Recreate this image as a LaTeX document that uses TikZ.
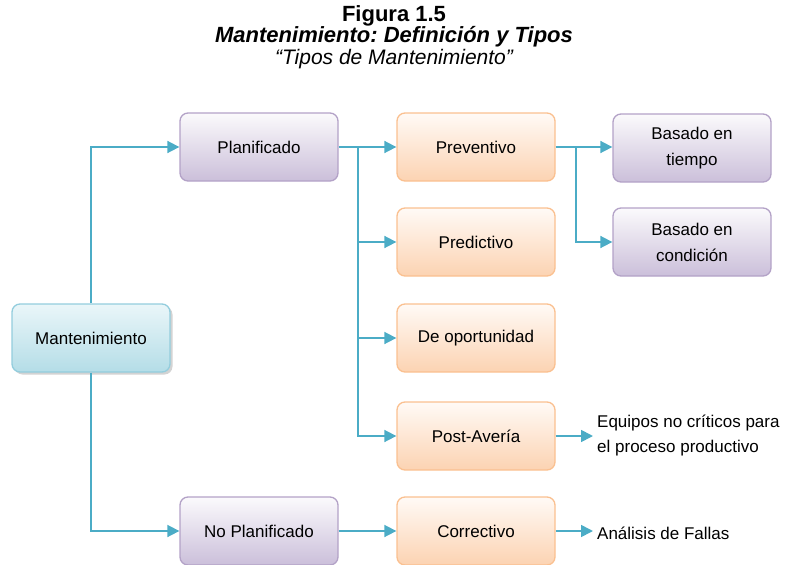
\documentclass[tikz,border=0pt]{standalone}
\usepackage{fontspec}
\setmainfont{Liberation Sans}
\usetikzlibrary{arrows.meta,shadows}
\frenchspacing
\definecolor{lineC}{HTML}{4BACC6}
\definecolor{purB}{HTML}{B3A2C7}
\definecolor{purT}{HTML}{FBFAFC}
\definecolor{purD}{HTML}{CBBFDA}
\definecolor{oraB}{HTML}{FAC090}
\definecolor{oraT}{HTML}{FFFAF6}
\definecolor{oraD}{HTML}{FCD3B2}
\definecolor{cyaB}{HTML}{93CDDD}
\definecolor{cyaT}{HTML}{EAF6F9}
\definecolor{cyaD}{HTML}{B4DDE7}
\tikzset{
  box/.style={rounded corners=8pt, line width=1.3pt, minimum width=158pt, minimum height=68pt,
    inner sep=0pt, align=center, font=\fontsize{17}{26}\selectfont},
  purbox/.style={box, draw=purB, top color=purT, bottom color=purD},
  orabox/.style={box, draw=oraB, top color=oraT, bottom color=oraD},
  cyabox/.style={box, draw=cyaB, top color=cyaT, bottom color=cyaD,
    drop shadow={shadow xshift=2.5pt, shadow yshift=-2.5pt, opacity=0.35, fill=gray}},
  conn/.style={draw=lineC, line width=1.7pt, -{Triangle[length=12pt,width=12pt]}},
  lbl/.style={align=left, anchor=west, inner sep=4pt, font=\fontsize{17}{25}\selectfont},
  ttl/.style={align=center, inner sep=0pt}
}
\begin{document}
\begin{tikzpicture}[x=1pt,y=-1pt]
\useasboundingbox (0,0) rectangle (788,565);
% titles
\node[ttl, font=\fontsize{22}{22}\selectfont\bfseries] (t1) at (394,16) {Figura 1.5};
\node[ttl, font=\fontsize{22}{22}\selectfont\bfseries\itshape] (t2) at (394,37) {Mantenimiento: Definición y Tipos};
\node[ttl, font=\fontsize{21}{21}\selectfont\itshape] (t3) at (394,59) {“Tipos de Mantenimiento”};
% boxes
\node[cyabox] (mant) at (91,338) {Mantenimiento};
\node[purbox] (plan) at (259,147) {Planificado};
\node[purbox] (noplan) at (259,531) {No Planificado};
\node[orabox] (prev) at (476,147) {Preventivo};
\node[orabox] (pred) at (476,242) {Predictivo};
\node[orabox] (opor) at (476,338) {De oportunidad};
\node[orabox] (post) at (476,436) {Post-Avería};
\node[orabox] (corr) at (476,531) {Correctivo};
\node[purbox] (btie) at (692,148) {Basado en\\tiempo};
\node[purbox] (bcon) at (692,242) {Basado en\\condición};
\node[lbl] (equi) at (593,436) {Equipos no críticos para\\el proceso productivo};
\node[lbl] (anal) at (593,533) {Análisis de Fallas};
% connectors
\coordinate (j1) at (358,147);
\coordinate (j2) at (576,147);
\draw[conn] (mant.north) |- (plan.west);
\draw[conn] (mant.south) |- (noplan.west);
\draw[conn] (plan.east) -- (prev.west);
\draw[conn] (j1) |- (pred.west);
\draw[conn] (j1) |- (opor.west);
\draw[conn] (j1) |- (post.west);
\draw[conn] (prev.east) -- (prev.east -| btie.west);
\draw[conn] (j2) |- (bcon.west);
\draw[conn] (noplan.east) -- (corr.west);
\draw[conn] (post.east) -- (equi.west);
\draw[conn] (corr.east) -- (corr.east -| anal.west);
\end{tikzpicture}
\end{document}
